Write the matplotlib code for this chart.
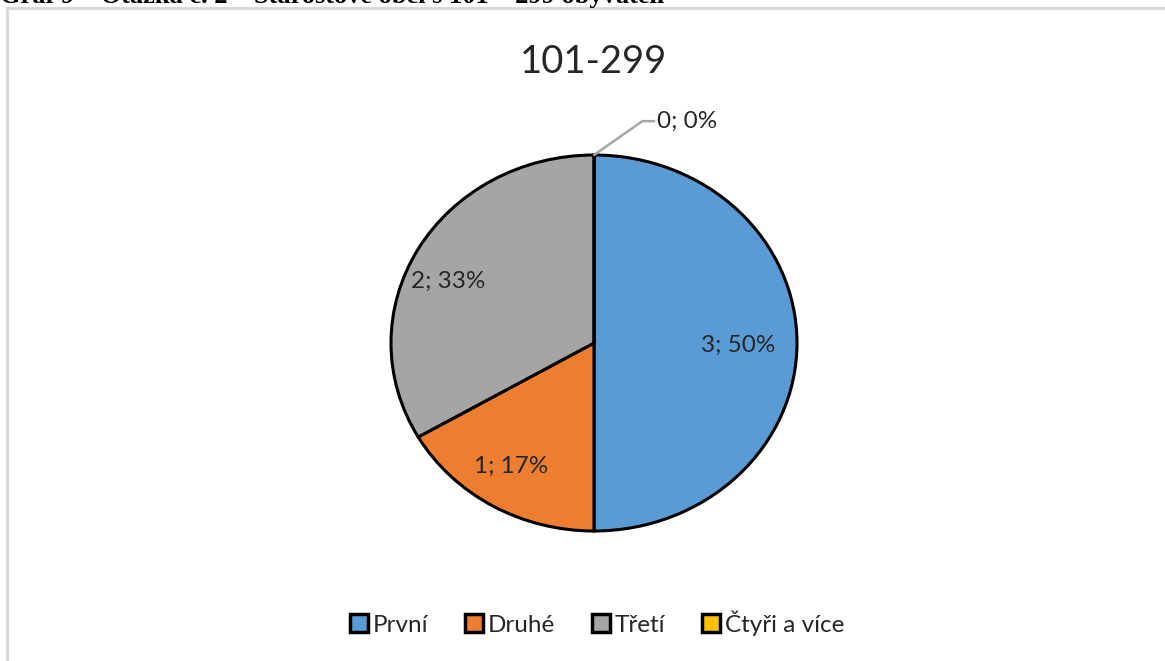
import matplotlib
matplotlib.use("Agg")
import matplotlib.pyplot as plt
from matplotlib.patches import Rectangle
import numpy as np

categories = ["První", "Druhé", "Třetí", "Čtyři a více"]
values = [3, 1, 2, 0]
colors = ["#5B9BD5", "#ED7D31", "#A5A5A5", "#FFC000"]
title = "101-299"
caption = "Graf 9 – Otázka č. 2 – Starostové obcí s 101 – 299 obyvateli"

plt.rcParams['font.family'] = ['Lato', 'DejaVu Sans']
TXT = "#262626"

W, H = 1165, 661
fig = plt.figure(figsize=(W / 100, H / 100), dpi=100)
fig.patch.set_facecolor("white")

# chart frame
fig.patches.append(Rectangle((7 / W, -0.05), 1.2, 1 - 8 / H + 0.05, transform=fig.transFigure,
                             fill=False, edgecolor="#D9D9D9", lw=2.2, zorder=0))

# caption (clipped at top, as in the source page)
fig.text(0.0, 1 - 3 / H, caption, family=['Liberation Serif'], weight='bold',
         fontsize=19, ha='left', va='baseline', color='black')

# pie axes (pixel box of the pie)
cx, cy, rx, ry = 594, 343, 203, 188
ax = fig.add_axes([(cx - rx) / W, 1 - (cy + ry) / H, 2 * rx / W, 2 * ry / H])
total = sum(values)

def fmt(pct):
    v = int(round(pct * total / 100))
    return "" if v == 0 else f"{v}; {pct:.0f}%"

wedges, texts, autotexts = ax.pie(values, colors=colors, startangle=90, counterclock=False,
                                  autopct=fmt, pctdistance=0.71,
                                  wedgeprops=dict(edgecolor="black", linewidth=2.2),
                                  textprops=dict(fontsize=17.5, color=TXT))
ax.set_aspect('auto')
ax.set_xlim(-1, 1)
ax.set_ylim(-1, 1)
ax.axis('off')

# nudge labels like Excel
for t, w in zip(autotexts, wedges):
    ang = np.deg2rad((w.theta1 + w.theta2) / 2)
    d = np.rad2deg(ang) % 360
    if 120 < d < 180:
        t.set_position((0.83 * np.cos(ang), 0.66 * np.sin(ang)))
    elif 200 < d < 260:
        t.set_position((0.82 * np.cos(ang), 0.76 * np.sin(ang)))
    else:
        t.set_position((0.71 * np.cos(ang), 0.71 * np.sin(ang) - 0.01))

# zero-value label with leader line
for v, w in zip(values, wedges):
    if v == 0:
        pct0 = 0 if total == 0 else 100 * v / total
        ang = np.deg2rad(w.theta1)
        px, py = np.cos(ang), np.sin(ang)
        ax.annotate(f"{v}; {pct0:.0f}%", xy=(px, py), xytext=(px + 0.31, py + 0.18),
                    fontsize=17.5, color=TXT, ha='left', va='center',
                    arrowprops=dict(arrowstyle='-', color='#A6A6A6', lw=1.8,
                                    connectionstyle='angle,angleA=0,angleB=35,rad=0',
                                    shrinkA=0, shrinkB=0),
                    annotation_clip=False)

fig.text(cx / W, 1 - 62 / H, title, ha='center', va='center', fontsize=27.5, color=TXT)

leg = fig.legend(wedges, categories, loc='center', bbox_to_anchor=(597 / W, 1 - 623 / H),
                 ncol=4, frameon=False, fontsize=17.5, handlelength=0.75, handleheight=0.75,
                 handletextpad=0.2, columnspacing=1.5, labelcolor=TXT)
for h in leg.legend_handles:
    h.set_linewidth(2.5)

fig.savefig("out.png", dpi=100, facecolor="white")
